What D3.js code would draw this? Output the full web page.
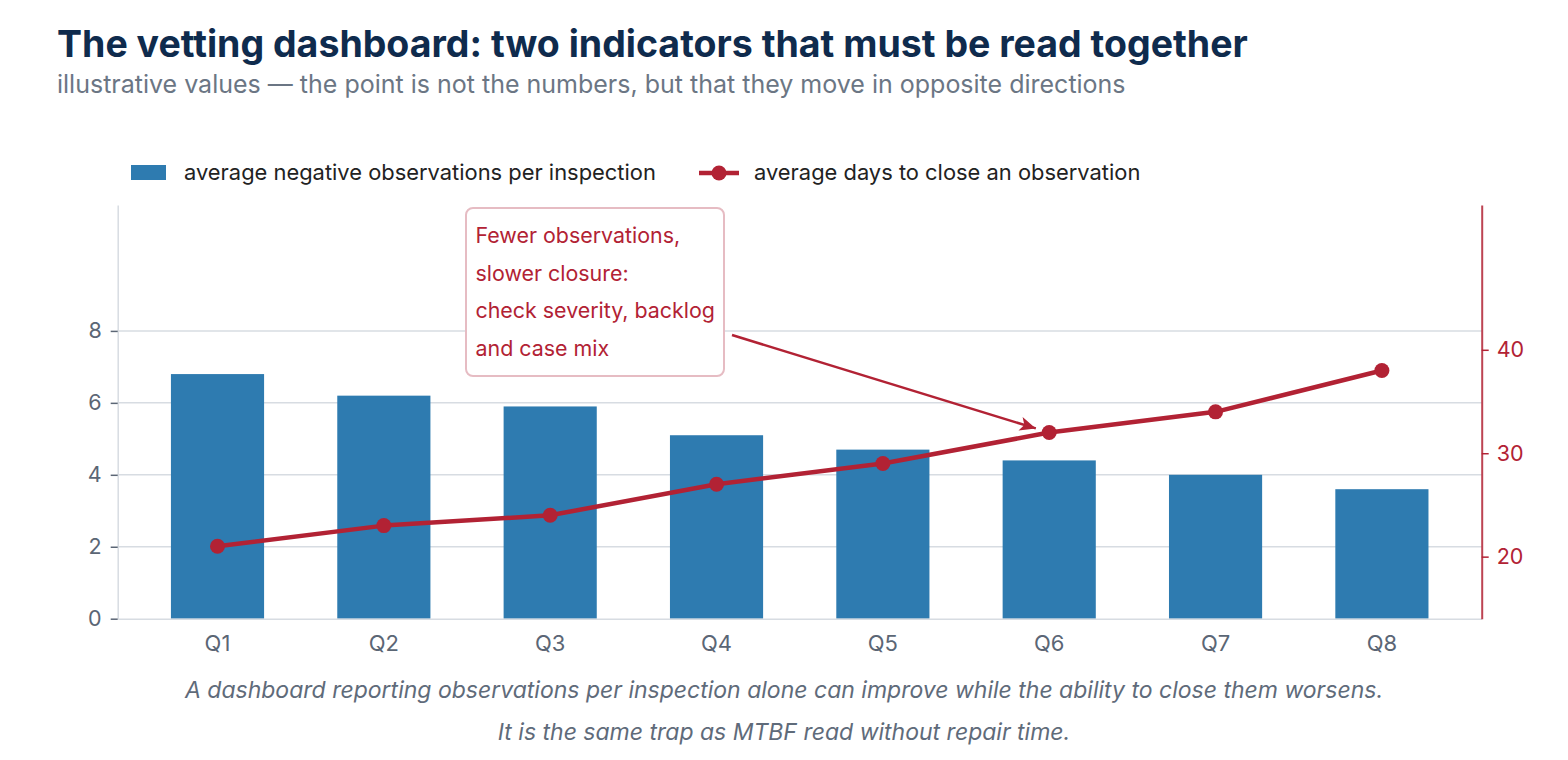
<!DOCTYPE html>
<html>
<head>
<meta charset="utf-8">
<script src="https://cdn.jsdelivr.net/npm/d3@7"></script>
<style>
  html, body { margin: 0; padding: 0; background: #ffffff; }
  svg { display: block; font-family: Inter, "Noto Sans", sans-serif; }
</style>
</head>
<body>
<svg id="chart" width="1568" height="760"></svg>
<script>
// ---- data ----
const quarters = ["Q1", "Q2", "Q3", "Q4", "Q5", "Q6", "Q7", "Q8"];
const negativeObservations = [6.8, 6.2, 5.9, 5.1, 4.7, 4.4, 4.0, 3.6];
const daysToClose = [21, 23, 24, 27, 29, 32, 34, 38];
const leftTicks = [0, 2, 4, 6, 8];
const rightTicks = [20, 30, 40];
const leftDomain = [0, 11.5];
const rightDomain = [14, 54];
const annotationLines = ["Fewer observations,", "slower closure:", "check severity, backlog", "and case mix"];
const annotationTarget = "Q6";
const captionLines = [
  "A dashboard reporting observations per inspection alone can improve while the ability to close them worsens.",
  "It is the same trap as MTBF read without repair time."
];
const titleText = "The vetting dashboard: two indicators that must be read together";
const subtitleText = "illustrative values \u2014 the point is not the numbers, but that they move in opposite directions";
const legendLabels = ["average negative observations per inspection", "average days to close an observation"];

// ---- styles ----
const BLUE = "#2e7bb0";
const RED = "#b22234";
const GRID = "#d7dce2";
const GREY_TXT = "#5b6675";

const svg = d3.select("#chart");
const plot = { left: 117.7, right: 1481.7, top: 205, bottom: 618.7 };

const x = d3.scaleBand().domain(quarters).range([plot.left, plot.right]).paddingInner(0.44).paddingOuter(0.32);
const y = d3.scaleLinear().domain(leftDomain).range([plot.bottom, plot.top]);
const y2 = d3.scaleLinear().domain(rightDomain).range([plot.bottom, plot.top]);

// title
svg.append("text").attr("x", 57).attr("y", 57).attr("font-size", 37.5).attr("font-weight", 700)
  .attr("fill", "#0f2b4d").text(titleText);
svg.append("text").attr("x", 57).attr("y", 92.5).attr("font-size", 25)
  .attr("fill", "#6b7684").text(subtitleText);

// gridlines
svg.append("g").selectAll("line").data(leftTicks.filter(d => d > 0)).join("line")
  .attr("x1", plot.left).attr("x2", plot.right)
  .attr("y1", d => y(d)).attr("y2", d => y(d))
  .attr("stroke", GRID).attr("stroke-width", 1.5);

// bars
svg.append("g").selectAll("rect").data(quarters).join("rect")
  .attr("x", d => x(d)).attr("width", x.bandwidth())
  .attr("y", (d, i) => y(negativeObservations[i]))
  .attr("height", (d, i) => y(0) - y(negativeObservations[i]))
  .attr("fill", BLUE);

// left axis
const gl = svg.append("g").attr("transform", `translate(${plot.left},0)`)
  .call(d3.axisLeft(y).tickValues(leftTicks).tickSize(7).tickSizeOuter(0).tickPadding(9));
gl.select(".domain").attr("stroke", GRID).attr("stroke-width", 1.5);
gl.selectAll(".tick line").attr("stroke", GREY_TXT).attr("stroke-width", 1.5);
gl.selectAll(".tick text").attr("font-size", 21.5).attr("fill", GREY_TXT).attr("font-family", "Inter");

// bottom axis
const gb = svg.append("g").attr("transform", `translate(0,${plot.bottom})`)
  .call(d3.axisBottom(x).tickSize(0).tickSizeOuter(0).tickPadding(16.5));
gb.select(".domain").attr("stroke", GRID).attr("stroke-width", 1.5);
gb.selectAll(".tick text").attr("font-size", 22).attr("fill", GREY_TXT).attr("font-family", "Inter");

// right axis
const gr = svg.append("g").attr("transform", `translate(${plot.right},0)`)
  .call(d3.axisRight(y2).tickValues(rightTicks).tickSize(7).tickSizeOuter(0).tickPadding(8));
gr.select(".domain").attr("stroke", RED).attr("stroke-opacity", 0.85).attr("stroke-width", 2);
gr.selectAll(".tick line").attr("stroke", RED).attr("stroke-width", 1.5);
gr.selectAll(".tick text").attr("font-size", 21.5).attr("fill", RED).attr("font-family", "Inter");

// line
const cx = d => x(d) + x.bandwidth() / 2;
const line = d3.line().x(d => cx(d)).y((d, i) => y2(daysToClose[i]));
svg.append("path").datum(quarters).attr("d", line)
  .attr("fill", "none").attr("stroke", RED).attr("stroke-width", 4.5).attr("stroke-linejoin", "round");
svg.append("g").selectAll("circle").data(quarters).join("circle")
  .attr("cx", d => cx(d)).attr("cy", (d, i) => y2(daysToClose[i])).attr("r", 7.5).attr("fill", RED);

// annotation
const box = { x: 466, y: 208, w: 258, h: 168 };
svg.append("rect").attr("x", box.x).attr("y", box.y).attr("width", box.w).attr("height", box.h)
  .attr("rx", 7).attr("fill", "#fff").attr("stroke", "#e6bcc3").attr("stroke-width", 2);
svg.append("g").selectAll("text").data(annotationLines).join("text")
  .attr("x", box.x + 9.5).attr("y", (d, i) => 243 + i * 37.5)
  .attr("font-size", 21.4).attr("fill", RED).text(d => d);

const ti = quarters.indexOf(annotationTarget);
const tx = cx(annotationTarget), ty = y2(daysToClose[ti]);
const sx = box.x + box.w + 8, sy = 335;
const ang = Math.atan2(ty - sy, tx - sx);
const ex = tx - Math.cos(ang) * 14, ey = ty - Math.sin(ang) * 14;
svg.append("line").attr("x1", sx).attr("y1", sy).attr("x2", ex).attr("y2", ey)
  .attr("stroke", RED).attr("stroke-width", 2.5);
svg.append("path")
  .attr("d", "M0,0 L-16,-7 L-12,0 L-16,7 z")
  .attr("transform", `translate(${ex},${ey}) rotate(${ang * 180 / Math.PI})`)
  .attr("fill", RED);

// legend
const lg = svg.append("g");
lg.append("rect").attr("x", 131).attr("y", 165).attr("width", 35).attr("height", 15).attr("fill", BLUE);
lg.append("text").attr("x", 184).attr("y", 180).attr("font-size", 21.9).attr("fill", "#222").text(legendLabels[0]);
lg.append("line").attr("x1", 699).attr("x2", 739).attr("y1", 173).attr("y2", 173)
  .attr("stroke", RED).attr("stroke-width", 4.5);
lg.append("circle").attr("cx", 719).attr("cy", 173).attr("r", 7.5).attr("fill", RED);
lg.append("text").attr("x", 754).attr("y", 180).attr("font-size", 21.9).attr("fill", "#222").text(legendLabels[1]);

// caption
svg.append("g").selectAll("text").data(captionLines).join("text")
  .attr("x", 784).attr("y", (d, i) => 698 + i * 41.5)
  .attr("text-anchor", "middle").attr("font-size", 23).attr("font-style", "italic")
  .attr("fill", "#5f6b7a").text(d => d);
</script>
</body>
</html>
